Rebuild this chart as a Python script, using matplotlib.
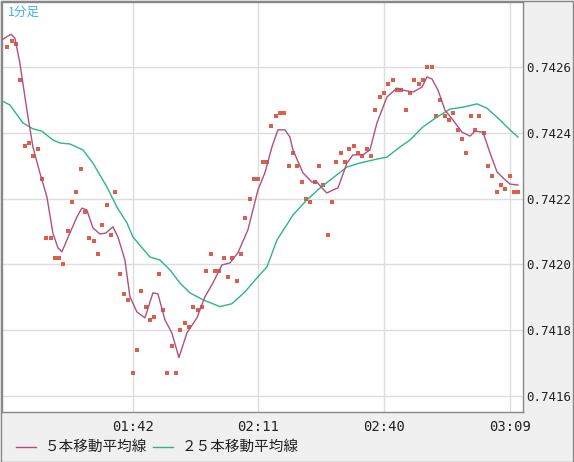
import matplotlib
matplotlib.use("Agg")
import matplotlib.pyplot as plt
from matplotlib.lines import Line2D
from matplotlib.patches import Rectangle

# minute index 0 = 01:13
prices = [0.74266,0.74268,0.74267,0.74256,0.74236,0.74237,0.74233,0.74235,0.74226,0.74208,
          0.74208,0.74202,0.74202,0.74200,0.74210,0.74219,0.74222,0.74229,0.74216,0.74208,
          0.74207,0.74203,0.74212,0.74218,0.74209,0.74222,0.74197,0.74191,0.74189,0.74167,
          0.74174,0.74192,0.74187,0.74183,0.74184,0.74197,0.74186,0.74167,0.74175,0.74167,
          0.74180,0.74182,0.74181,0.74187,0.74186,0.74187,0.74198,0.74203,0.74198,0.74198,
          0.74202,0.74196,0.74202,0.74195,0.74203,0.74214,0.74220,0.74226,0.74226,0.74231,
          0.74231,0.74242,0.74245,0.74246,0.74246,0.74230,0.74234,0.74230,0.74225,0.74220,
          0.74219,0.74225,0.74230,0.74224,0.74209,0.74219,0.74231,0.74234,0.74231,0.74235,
          0.74236,0.74234,0.74233,0.74235,0.74233,0.74247,0.74251,0.74252,0.74255,0.74256,
          0.74253,0.74253,0.74247,0.74252,0.74256,0.74255,0.74256,0.74260,0.74260,0.74245,
          0.74250,0.74245,0.74244,0.74246,0.74241,0.74238,0.74234,0.74245,0.74241,0.74245,
          0.74240,0.74230,0.74227,0.74222,0.74224,0.74223,0.74227,0.74222,0.74222]

ma5_x = [-1.69,0.85,1.78,2.93,4.55,5.94,7.55,9.17,10.55,11.71,12.63,14.48,16.1,17.25,18.4,19.79,
         21.4,22.79,24.41,25.57,27.18,28.34,29.95,31.8,33.65,34.8,36.42,38.03,39.65,41.5,43.81,
         45.66,47.5,49.58,51.43,53.28,55.59,57.9,59.5,61.13,62.51,64.13,65.28,65.98,68.29,70.37,
         71.52,72.68,73.83,75.22,76.37,78.45,79.84,82.14,83.76,85.38,87.69,90.0,91.39,93.7,95.77,
         96.93,98.08,99.47,101.08,102.93,105.01,106.86,108.01,109.86,111.48,113.1,114.48,116.1,117.94]
ma5_y = [0.742679,0.742700,0.742688,0.742612,0.742469,0.742357,0.742278,0.742205,0.742095,0.742050,
         0.742038,0.742095,0.742144,0.742171,0.742165,0.742111,0.742092,0.742095,0.742114,0.742083,
         0.742013,0.741901,0.741855,0.741837,0.741913,0.741910,0.741831,0.741791,0.741716,0.741791,
         0.741837,0.741901,0.741943,0.741998,0.742004,0.742035,0.742105,0.742226,0.742278,0.742357,
         0.742409,0.742409,0.742387,0.742348,0.742278,0.742250,0.742250,0.742232,0.742217,0.742226,
         0.742232,0.742308,0.742333,0.742333,0.742348,0.742430,0.742509,0.742536,0.742530,0.742524,
         0.742539,0.742570,0.742564,0.742530,0.742469,0.742439,0.742402,0.742390,0.742405,0.742402,
         0.742339,0.742281,0.742263,0.742244,0.742241]

ma25_x = [-1.69,0.62,3.63,5.94,8.01,10.55,12.17,14.48,17.48,19.79,23.03,25.33,27.64,29.03,32.96,
          35.27,37.57,39.88,42.19,45.19,49.12,51.89,54.89,57.9,59.98,62.29,65.28,65.98,69.21,72.22,
          75.22,78.45,81.45,85.38,87.69,90.69,93.0,96.0,99.24,102.24,105.24,108.47,110.78,113.78,
          116.1,117.94]
ma25_y = [0.742500,0.742485,0.742430,0.742412,0.742405,0.742378,0.742369,0.742366,0.742348,0.742308,
          0.742235,0.742174,0.742126,0.742083,0.742022,0.742013,0.741983,0.741943,0.741913,0.741892,
          0.741871,0.741880,0.741916,0.741962,0.741992,0.742074,0.742135,0.742150,0.742196,0.742232,
          0.742263,0.742296,0.742308,0.742320,0.742326,0.742357,0.742378,0.742418,0.742448,0.742472,
          0.742478,0.742488,0.742475,0.742439,0.742409,0.742387]

xtick_pos = [29, 58, 87, 116]
xtick_labels = ["01:42", "02:11", "02:40", "03:09"]
ytick_vals = [0.7416, 0.7418, 0.7420, 0.7422, 0.7424, 0.7426]
legend_labels = ["５本移動平均線", "２５本移動平均線"]
title = "1分足"

W, H = 574, 462
fig = plt.figure(figsize=(W/100, H/100), dpi=100, facecolor="#f0f0f0")
ax = fig.add_axes([2/W, 1-411.5/H, 521/W, 409.5/H])
ax.set_facecolor("white")
ax.set_xlim(-1.2, 119.1)
ax.set_ylim(0.741552, 0.742798)
ax.set_xticks(xtick_pos)
ax.set_xticklabels(xtick_labels)
ax.set_yticks(ytick_vals)
ax.set_yticklabels([f"{v:.4f}" for v in ytick_vals])
ax.yaxis.tick_right()
ax.tick_params(axis="x", length=0, labelsize=10, pad=6, colors="#222222")
ax.tick_params(axis="y", length=0, labelsize=9, pad=2, colors="#222222")
for lab in ax.get_xticklabels() + ax.get_yticklabels():
    lab.set_family("DejaVu Sans Mono")
ax.grid(True, color="#dddddd", lw=1)
ax.set_axisbelow(True)
for s in ax.spines.values():
    s.set_color("#888888")
    s.set_linewidth(1)

ax.scatter(range(len(prices)), prices, marker="s", s=6, color="#d9604a", linewidths=0, zorder=3)
ax.plot(ma25_x, ma25_y, color="#2bb58a", lw=1, zorder=4)
ax.plot(ma5_x, ma5_y, color="#b0507f", lw=1, zorder=4)

ax.text(0.012, 0.99, title, transform=ax.transAxes, va="top", ha="left",
        color="#3ab4e8", fontsize=9, family=["Noto Sans CJK JP", "DejaVu Sans"])

fig.add_artist(Line2D([16/W, 36/W], [1-447/H]*2, color="#b0507f", lw=1))
fig.add_artist(Line2D([153/W, 173/W], [1-447/H]*2, color="#2bb58a", lw=1))
fig.text(45/W, 1-447/H, legend_labels[0], va="center", fontsize=10.5, color="#222222",
         family=["Noto Sans CJK JP", "DejaVu Sans"])
fig.text(182/W, 1-447/H, legend_labels[1], va="center", fontsize=10.5, color="#222222",
         family=["Noto Sans CJK JP", "DejaVu Sans"])
fig.add_artist(Rectangle((0.5/W, 0.5/H), 1-1.5/W, 1-1.5/H, fill=False, ec="#888888", lw=1,
                         transform=fig.transFigure))

fig.savefig("out.png", dpi=100, facecolor=fig.get_facecolor())
